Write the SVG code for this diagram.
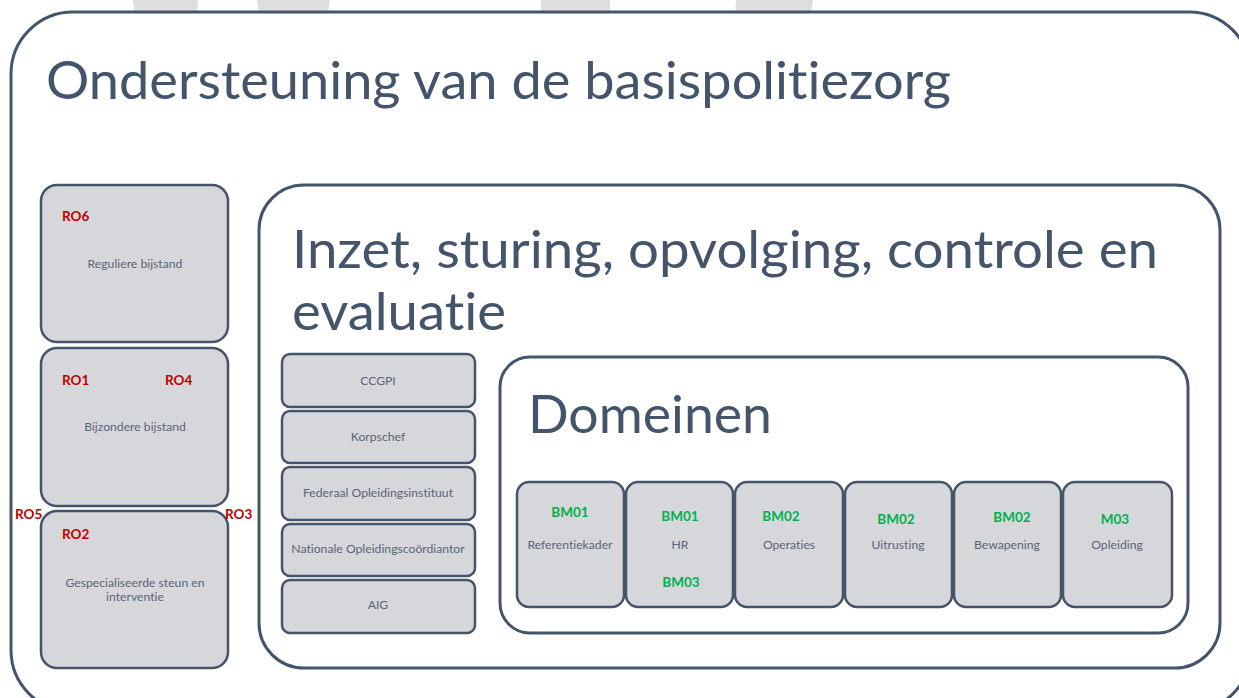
<svg xmlns="http://www.w3.org/2000/svg" width="1239" height="698" viewBox="0 0 1239 698">
<style>
text{font-variant-ligatures:none}
.wm{fill:#DEDEDE}
.frame{fill:#FFFFFF;stroke:#44546A;stroke-width:3}
.box{fill:#D6D7DB;stroke:#44546A;stroke-width:2.5}
.big{font-family:Lato,"Liberation Sans",sans-serif;font-weight:normal;fill:#44546A;font-size:53px}
.lbl{font-family:Lato,"Liberation Sans",sans-serif;font-size:12.2px;fill:#5A6478;text-anchor:middle}
.ro{font-family:Lato,"Liberation Sans",sans-serif;font-size:13.5px;font-weight:bold;fill:#C00000}
.bm{font-family:Lato,"Liberation Sans",sans-serif;font-size:13.5px;font-weight:bold;fill:#00B050;text-anchor:middle}
</style>
<g id="watermark">
<polygon class="wm" points="133,0 198,0 197,20 135,20"/>
<polygon class="wm" points="257,0 330,0 327,20 260,20"/>
<polygon class="wm" points="541,0 610,0 610,20 541,20"/>
<polygon class="wm" points="736,0 813,0 810,20 735,20"/>
<polygon class="wm" points="30,688 50,688 50,698 32,698"/>
</g>
<g id="outer">
<rect class="frame" x="11" y="12" width="1240" height="700" rx="62"/>
<text class="big" x="46" y="99" textLength="905" lengthAdjust="spacingAndGlyphs">Ondersteuning van de basispolitiezorg</text>
</g>
<g id="ro6">
<rect class="box" x="41" y="185" width="187" height="157" rx="16"/>
<text class="ro" x="62" y="221">RO6</text>
<text class="lbl" x="135" y="268">Reguliere bijstand</text>
</g>
<g id="ro1-ro4">
<rect class="box" x="41" y="348" width="187" height="158" rx="16"/>
<text class="ro" x="62" y="385">RO1</text>
<text class="ro" x="165" y="385">RO4</text>
<text class="lbl" x="135" y="431">Bijzondere bijstand</text>
</g>
<g id="ro2">
<rect class="box" x="41" y="511" width="187" height="157" rx="16"/>
<text class="ro" x="62" y="539">RO2</text>
<text class="lbl" x="135" y="587">Gespecialiseerde steun en</text>
<text class="lbl" x="135" y="601">interventie</text>
</g>
<g id="ro5-ro3">
<text class="ro" x="15" y="519">RO5</text>
<text class="ro" x="225" y="519">RO3</text>
</g>
<g id="inzet">
<rect class="frame" x="259" y="185" width="961" height="483" rx="45"/>
<text class="big" x="292" y="268" textLength="866" lengthAdjust="spacingAndGlyphs">Inzet, sturing, opvolging, controle en</text>
<text class="big" x="292" y="330" textLength="214" lengthAdjust="spacingAndGlyphs">evaluatie</text>
</g>
<g id="ccgpi"><rect class="box" x="282" y="354" width="193" height="53" rx="8"/><text class="lbl" x="378" y="385">CCGPI</text></g>
<g id="korpschef"><rect class="box" x="282" y="411" width="193" height="52" rx="8"/><text class="lbl" x="378" y="441">Korpschef</text></g>
<g id="federaal"><rect class="box" x="282" y="467" width="193" height="53" rx="8"/><text class="lbl" x="378" y="497">Federaal Opleidingsinstituut</text></g>
<g id="nationale"><rect class="box" x="282" y="524" width="193" height="52" rx="8"/><text class="lbl" x="378" y="553">Nationale Opleidingscoördiantor</text></g>
<g id="aig"><rect class="box" x="282" y="580" width="193" height="53" rx="8"/><text class="lbl" x="378" y="609">AIG</text></g>
<g id="domeinen">
<rect class="frame" x="500" y="357" width="688" height="276" rx="30"/>
<text class="big" x="528" y="433" textLength="244" lengthAdjust="spacingAndGlyphs">Domeinen</text>
</g>
<g id="referentiekader"><rect class="box" x="517" y="482" width="107" height="125" rx="12"/><text class="bm" x="570" y="517">BM01</text><text class="lbl" x="570" y="549">Referentiekader</text></g>
<g id="hr"><rect class="box" x="626" y="482" width="107" height="125" rx="12"/><text class="bm" x="680" y="521">BM01</text><text class="lbl" x="680" y="549">HR</text><text class="bm" x="681" y="587">BM03</text></g>
<g id="operaties"><rect class="box" x="735" y="482" width="108" height="125" rx="12"/><text class="bm" x="781" y="521">BM02</text><text class="lbl" x="789" y="549">Operaties</text></g>
<g id="uitrusting"><rect class="box" x="845" y="482" width="107" height="125" rx="12"/><text class="bm" x="896" y="524">BM02</text><text class="lbl" x="898" y="549">Uitrusting</text></g>
<g id="bewapening"><rect class="box" x="954" y="482" width="107" height="125" rx="12"/><text class="bm" x="1012" y="522">BM02</text><text class="lbl" x="1007" y="549">Bewapening</text></g>
<g id="opleiding"><rect class="box" x="1063" y="482" width="109" height="125" rx="12"/><text class="bm" x="1115" y="524">M03</text><text class="lbl" x="1117" y="549">Opleiding</text></g>
<g id="connectors"/>
</svg>
